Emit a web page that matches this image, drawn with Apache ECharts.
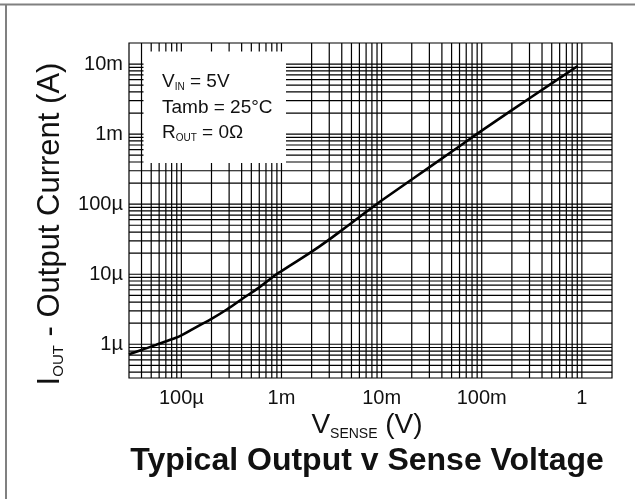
<!DOCTYPE html>
<html><head><meta charset="utf-8">
<script src="https://cdn.jsdelivr.net/npm/echarts@6/dist/echarts.min.js"></script>
<style>html,body{margin:0;padding:0;background:#fff}#c{width:635px;height:499px}</style>
</head><body><div id="c"></div>
<script>
// ---- data ----
const vSense = [3e-5, 4e-5, 5.6e-5, 8e-5, 1e-4, 1.5e-4, 2e-4, 3e-4, 4e-4, 6e-4, 8.9e-4, 1e-3, 2.4e-3, 5e-3, 8.9e-3, 1e-2, 2e-2, 5e-2, 8.9e-2, 0.1, 0.2, 0.5, 0.91];
const iOut   = [0.72e-6, 0.83e-6, 0.98e-6, 1.18e-6, 1.34e-6, 1.85e-6, 2.3e-6, 3.3e-6, 4.4e-6, 6.5e-6, 1.0e-5, 1.11e-5, 2.5e-5, 5.4e-5, 1.0e-4, 1.13e-4, 2.25e-4, 5.6e-4, 1.0e-3, 1.12e-3, 2.2e-3, 5.3e-3, 9.4e-3];
const xTickValues = [1e-4, 1e-3, 1e-2, 1e-1, 1];
const xTickLabels = ['100µ', '1m', '10m', '100m', '1'];
const yTickValues = [1e-6, 1e-5, 1e-4, 1e-3, 1e-2];
const yTickLabels = ['1µ', '10µ', '100µ', '1m', '10m'];
const xRange = [3e-5, 2];
const yRange = [3.3e-7, 2e-2];

// log-paper grid lines (1..9 per decade) inside the ranges
function logGrid(r) {
  const out = [];
  for (let e = -8; e <= 1; e++) for (let k = 1; k <= 9; k++) {
    const v = k * Math.pow(10, e);
    if (v > r[0] * 1.0001 && v < r[1] * 0.9999) out.push(v);
  }
  return out;
}
const xGrid = logGrid(xRange);
const yGrid = logGrid(yRange);

function fmt(values, labels) {
  return function (v) {
    for (let i = 0; i < values.length; i++) {
      if (Math.abs(Math.log10(v) - Math.log10(values[i])) < 1e-6) return labels[i];
    }
    return '';
  };
}

const FONT = 'Liberation Sans';
const ctx = document.createElement('canvas').getContext('2d');
function tw(t, s, w) { ctx.font = (w || 'normal') + ' ' + s + 'px "' + FONT + '"'; return ctx.measureText(t).width; }
function composite(parts, o) {
  const ws = parts.map(p => tw(p.t, p.s, o.weight));
  const total = ws.reduce((a, b) => a + b, 0);
  let x = o.align === 'center' ? -total / 2 : 0;
  const children = parts.map((p, i) => {
    const el = { type: 'text', x: x, y: p.dy || 0, z: 100, style: { text: p.t, fontSize: p.s, fontFamily: FONT, fontWeight: o.weight || 'normal', fill: '#111', align: 'left', verticalAlign: 'middle' } };
    x += ws[i];
    return el;
  });
  return { type: 'group', x: o.x, y: o.y, rotation: o.rotation || 0, z: 100, children: children };
}

const gridStyle = { stroke: '#000', lineWidth: 1.2 };
function vLine(params, api) {
  const v = api.value(0);
  const a = api.coord([v, yRange[0]]), b = api.coord([v, yRange[1]]);
  return { type: 'line', shape: { x1: a[0], y1: a[1], x2: b[0], y2: b[1] }, style: gridStyle, silent: true };
}
function hLine(params, api) {
  const v = api.value(1);
  const a = api.coord([xRange[0], v]), b = api.coord([xRange[1], v]);
  return { type: 'line', shape: { x1: a[0], y1: a[1], x2: b[0], y2: b[1] }, style: gridStyle, silent: true };
}

const chart = echarts.init(document.getElementById('c'), null, { renderer: 'canvas' });
chart.setOption({
  animation: false,
  backgroundColor: '#fff',
  grid: { left: 129, right: 23, top: 43, bottom: 121, show: true, borderColor: '#000', borderWidth: 1.2, backgroundColor: 'transparent' },
  xAxis: {
    type: 'log', logBase: 10, min: xRange[0], max: xRange[1],
    axisLine: { show: false }, axisTick: { show: false }, splitLine: { show: false },
    axisLabel: { formatter: fmt(xTickValues, xTickLabels), fontSize: 20, fontFamily: FONT, color: '#111', margin: 10 }
  },
  yAxis: {
    type: 'log', logBase: 10, min: yRange[0], max: yRange[1],
    axisLine: { show: false }, axisTick: { show: false }, splitLine: { show: false },
    axisLabel: { formatter: fmt(yTickValues, yTickLabels), fontSize: 20, fontFamily: FONT, color: '#111', margin: 6 }
  },
  series: [
    { type: 'custom', z: 1, silent: true, renderItem: vLine, data: xGrid.map(v => [v, yRange[0]]) },
    { type: 'custom', z: 1, silent: true, renderItem: hLine, data: yGrid.map(v => [xRange[0], v]) },
    {
      type: 'line', z: 5, smooth: 0.5, showSymbol: false, silent: true,
      lineStyle: { color: '#000', width: 2.6 },
      data: vSense.map((v, i) => [v, iOut[i]])
    }
  ],
  graphic: [
    { type: 'line', z: 100, shape: { x1: 0, y1: 4.5, x2: 635, y2: 4.5 }, style: { stroke: '#808080', lineWidth: 2 } },
    { type: 'line', z: 100, shape: { x1: 6, y1: 4, x2: 6, y2: 499 }, style: { stroke: '#808080', lineWidth: 2 } },
    { type: 'rect', z: 90, shape: { x: 143.5, y: 51.5, width: 142.5, height: 111.5 }, style: { fill: '#fff' } },
    composite([{ t: 'V', s: 19 }, { t: 'IN', s: 10, dy: 5 }, { t: ' = 5V', s: 19 }], { x: 162, y: 82 }),
    composite([{ t: 'Tamb = 25°C', s: 19 }], { x: 162, y: 108 }),
    composite([{ t: 'R', s: 19 }, { t: 'OUT', s: 10, dy: 5 }, { t: ' = 0Ω', s: 19 }], { x: 162, y: 133 }),
    composite([{ t: 'V', s: 28 }, { t: 'SENSE', s: 14, dy: 9 }, { t: ' (V)', s: 28 }], { x: 367, y: 425, align: 'center' }),
    composite([{ t: 'I', s: 31 }, { t: 'OUT', s: 15, dy: 9 }, { t: ' - Output Current (A)', s: 31 }], { x: 50, y: 224, align: 'center', rotation: Math.PI / 2 }),
    composite([{ t: 'Typical Output v Sense Voltage', s: 32 }], { x: 367, y: 461, align: 'center', weight: 'bold' })
  ]
});
</script>
</body></html>
